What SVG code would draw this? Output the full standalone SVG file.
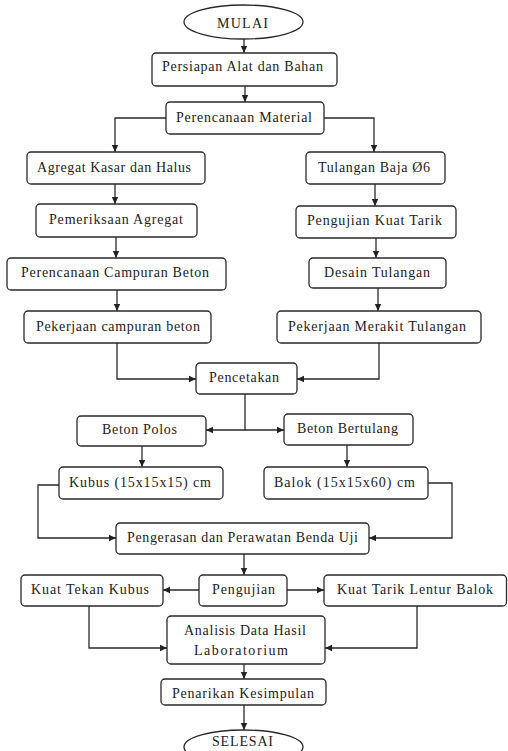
<svg xmlns="http://www.w3.org/2000/svg" width="508" height="751" viewBox="0 0 508 751">
<style>
.b{fill:#fff;stroke:#2a2a2a;stroke-width:1.3}
.t{font-family:"Liberation Serif","Times New Roman",serif;font-size:14px;fill:#222;text-anchor:middle}
.c{fill:none;stroke:#2a2a2a;stroke-width:1.3}
</style>
<defs>
<marker id="ah" markerUnits="userSpaceOnUse" markerWidth="8" markerHeight="8" refX="7" refY="4" orient="auto">
<path d="M0,0.8 L7,4 L0,7.2 Z" fill="#222"/>
</marker>
</defs>
<rect width="508" height="751" fill="#fff"/>
<g id="connectors" class="c" marker-end="url(#ah)">
<path d="M244,39 V53"/>
<path d="M245,86 V102"/>
<path d="M166,118 H115 V152"/>
<path d="M324,118 H374 V152"/>
<path d="M115,184 V204"/>
<path d="M375,184 V206"/>
<path d="M116,237 V258"/>
<path d="M376,238 V258"/>
<path d="M117,290 V311"/>
<path d="M378,288 V311"/>
<path d="M117,343 V379 H196"/>
<path d="M379,343 V379 H297"/>
<path d="M245,394 V430 H206"/>
<path d="M245,430 H284"/>
<path d="M142,446 V467"/>
<path d="M347,445 V467"/>
<path d="M59,485 H38 V538 H116"/>
<path d="M428,483 H452 V538 H369"/>
<path d="M244,554 V575"/>
<path d="M199,590 H163"/>
<path d="M287,590 H324"/>
<path d="M89,606 V648 H167"/>
<path d="M417,606 V648 H325"/>
<path d="M244,664 V679"/>
<path d="M244,705 V730"/>
</g>
<g id="mulai"><ellipse class="b" cx="243.5" cy="22" rx="59.5" ry="17"/><text class="t" x="242.5" y="28" textLength="51" lengthAdjust="spacing">MULAI</text></g>
<g id="persiapan"><rect class="b" x="152" y="53" width="185" height="33" rx="4"/><text class="t" x="242.5" y="71" textLength="161" lengthAdjust="spacing">Persiapan Alat dan Bahan</text></g>
<g id="perencanaan-material"><rect class="b" x="166" y="102" width="158" height="32" rx="4"/><text class="t" x="244" y="121.5" textLength="136" lengthAdjust="spacing">Perencanaan Material</text></g>
<g id="agregat"><rect class="b" x="27" y="152" width="178" height="32" rx="4"/><text class="t" x="114" y="171.5" textLength="154" lengthAdjust="spacing">Agregat Kasar dan Halus</text></g>
<g id="tulangan-baja"><rect class="b" x="306" y="152" width="139" height="32" rx="4"/><text class="t" x="374" y="171.5" textLength="112" lengthAdjust="spacing">Tulangan Baja Ø6</text></g>
<g id="pemeriksaan"><rect class="b" x="36" y="204" width="161" height="33" rx="4"/><text class="t" x="116" y="224" textLength="134" lengthAdjust="spacing">Pemeriksaan Agregat</text></g>
<g id="pengujian-kuat-tarik"><rect class="b" x="296" y="206" width="160" height="32" rx="4"/><text class="t" x="374.5" y="225" textLength="135" lengthAdjust="spacing">Pengujian Kuat Tarik</text></g>
<g id="perencanaan-campuran"><rect class="b" x="7" y="258" width="219" height="32" rx="4"/><text class="t" x="115" y="277" textLength="188" lengthAdjust="spacing">Perencanaan Campuran Beton</text></g>
<g id="desain-tulangan"><rect class="b" x="309" y="258" width="137" height="30" rx="4"/><text class="t" x="377" y="276.5" textLength="106" lengthAdjust="spacing">Desain Tulangan</text></g>
<g id="pekerjaan-campuran"><rect class="b" x="24" y="311" width="187" height="32" rx="4"/><text class="t" x="118" y="330.5" textLength="164" lengthAdjust="spacing">Pekerjaan campuran beton</text></g>
<g id="pekerjaan-merakit"><rect class="b" x="277" y="311" width="204" height="32" rx="4"/><text class="t" x="377" y="330.5" textLength="178" lengthAdjust="spacing">Pekerjaan Merakit Tulangan</text></g>
<g id="pencetakan"><rect class="b" x="196" y="363" width="101" height="31" rx="4"/><text class="t" x="244" y="381.5" textLength="70" lengthAdjust="spacing">Pencetakan</text></g>
<g id="beton-polos"><rect class="b" x="77" y="416" width="129" height="30" rx="4"/><text class="t" x="139.5" y="434" textLength="75" lengthAdjust="spacing">Beton Polos</text></g>
<g id="beton-bertulang"><rect class="b" x="284" y="414" width="129" height="31" rx="4"/><text class="t" x="347.5" y="433" textLength="101" lengthAdjust="spacing">Beton Bertulang</text></g>
<g id="kubus"><rect class="b" x="59" y="467" width="164" height="32" rx="4"/><text class="t" x="140" y="487" textLength="142" lengthAdjust="spacing">Kubus (15x15x15) cm</text></g>
<g id="balok"><rect class="b" x="264" y="467" width="164" height="32" rx="4"/><text class="t" x="344.5" y="487" textLength="141" lengthAdjust="spacing">Balok (15x15x60) cm</text></g>
<g id="pengerasan"><rect class="b" x="116" y="523" width="253" height="31" rx="4"/><text class="t" x="242.5" y="542" textLength="231" lengthAdjust="spacing">Pengerasan dan Perawatan Benda Uji</text></g>
<g id="kuat-tekan"><rect class="b" x="21" y="575" width="142" height="31" rx="4"/><text class="t" x="90" y="593.5" textLength="118" lengthAdjust="spacing">Kuat Tekan Kubus</text></g>
<g id="pengujian"><rect class="b" x="199" y="575" width="88" height="31" rx="4"/><text class="t" x="243.5" y="593.5" textLength="63" lengthAdjust="spacing">Pengujian</text></g>
<g id="kuat-tarik-lentur"><rect class="b" x="324" y="575" width="182.5" height="31" rx="4"/><text class="t" x="415" y="593.5" textLength="156" lengthAdjust="spacing">Kuat Tarik Lentur Balok</text></g>
<g id="analisis"><rect class="b" x="167" y="616" width="158" height="48" rx="4"/><text class="t" x="245" y="635" textLength="122" lengthAdjust="spacing">Analisis Data Hasil</text><text class="t" x="241" y="655" textLength="94" lengthAdjust="spacing">Laboratorium</text></g>
<g id="penarikan"><rect class="b" x="161" y="679" width="165" height="26" rx="4"/><text class="t" x="243" y="698" textLength="142" lengthAdjust="spacing">Penarikan Kesimpulan</text></g>
<g id="selesai"><ellipse class="b" cx="243.5" cy="747" rx="59.5" ry="17"/><text class="t" x="242.5" y="746" textLength="61" lengthAdjust="spacing">SELESAI</text></g>
</svg>
